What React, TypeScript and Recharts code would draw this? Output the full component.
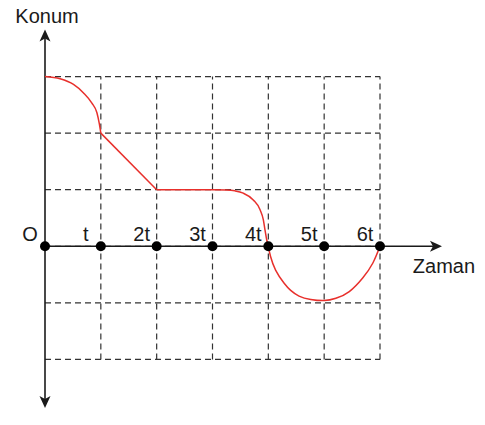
import React from 'react';
import { LineChart, Line, XAxis, YAxis, ReferenceLine, ReferenceDot } from 'recharts';

// time ticks (in units of t) and their labels
const tickValues = [0, 1, 2, 3, 4, 5, 6];
const tickLabels = ['O', 't', '2t', '3t', '4t', '5t', '6t'];

// dashed grid
const gridRows = [3, 2, 1, 0, -1, -2];
const gridCols = [1, 2, 3, 4, 5, 6];

// position curve, split where it has corners
const seg1X = [0, 0.27, 0.51, 0.69, 0.84, 0.93, 0.97, 1];
const seg1Y = [3, 2.96, 2.86, 2.71, 2.53, 2.36, 2.18, 2];
const seg2X = [1, 2];
const seg2Y = [2, 1];
const seg3X = [2, 3, 3.25, 3.4, 3.55, 3.73, 3.85, 3.91, 3.94, 3.97, 4];
const seg3Y = [1, 1, 0.995, 0.98, 0.94, 0.82, 0.65, 0.47, 0.29, 0.12, 0];
const seg4X = [4, 4.04, 4.13, 4.28, 4.4, 4.55, 4.76, 5, 5.21, 5.45, 5.69, 5.87, 6];
const seg4Y = [0, -0.18, -0.42, -0.65, -0.78, -0.88, -0.94, -0.96, -0.92, -0.8, -0.56, -0.3, 0];

const toRows = (xs: number[], ys: number[]) => xs.map((x, i) => ({ x, y: ys[i] }));

const FONT = '"Liberation Sans", Arial, Helvetica, sans-serif';
const INK = '#1a1a1a';
const RED = '#e8302c';

const arrowUp = (p: any) => (
  <g>
    <path d={`M${p.cx},${p.cy} L${p.cx - 5.5},${p.cy + 12} L${p.cx},${p.cy + 9} L${p.cx + 5.5},${p.cy + 12} Z`} fill={INK} />
    <text x={p.cx + 2} y={p.cy - 7} textAnchor="middle" fontFamily={FONT} fontSize={20} fill={INK}>Konum</text>
  </g>
);

const arrowDown = (p: any) => (
  <path d={`M${p.cx},${p.cy} L${p.cx - 5.5},${p.cy - 12} L${p.cx},${p.cy - 9} L${p.cx + 5.5},${p.cy - 12} Z`} fill={INK} />
);

const arrowRight = (p: any) => (
  <g>
    <path d={`M${p.cx},${p.cy} L${p.cx - 12},${p.cy - 5.5} L${p.cx - 9},${p.cy} L${p.cx - 12},${p.cy + 5.5} Z`} fill={INK} />
    <text x={p.cx + 2} y={p.cy + 27} textAnchor="middle" fontFamily={FONT} fontSize={20} fill={INK}>Zaman</text>
  </g>
);

const App: React.FC = () => {
  return (
    <div style={{ margin: '-8px 0 0 -8px', width: 485, height: 425 }}>
      <LineChart width={485} height={425} margin={{ top: 20, right: 38, bottom: 9, left: 45 }}>
        <XAxis type="number" dataKey="x" domain={[0, 7.2]} hide />
        <YAxis type="number" dataKey="y" domain={[-3, 4]} hide />

        {gridRows.map((r) => (
          <ReferenceLine
            key={'r' + r}
            segment={[{ x: 0, y: r }, { x: 6, y: r }]}
            stroke="#333"
            strokeWidth={1.2}
            strokeDasharray="6 4"
          />
        ))}
        {gridCols.map((c) => (
          <ReferenceLine
            key={'c' + c}
            segment={[{ x: c, y: -2 }, { x: c, y: 3 }]}
            stroke="#333"
            strokeWidth={1.2}
            strokeDasharray="6 4"
          />
        ))}

        {/* axes */}
        <ReferenceLine segment={[{ x: 0, y: -2.75 }, { x: 0, y: 3.7 }]} stroke={INK} strokeWidth={1.6} />
        <ReferenceLine segment={[{ x: 0, y: 0 }, { x: 6.95, y: 0 }]} stroke={INK} strokeWidth={1.6} />
        <ReferenceDot x={0} y={3.83} r={0} shape={arrowUp} />
        <ReferenceDot x={0} y={-2.86} r={0} shape={arrowDown} />
        <ReferenceDot x={7.11} y={0} r={0} shape={arrowRight} />

        <Line data={toRows(seg1X, seg1Y)} dataKey="y" type="monotone" stroke={RED} strokeWidth={1.5} dot={false} isAnimationActive={false} />
        <Line data={toRows(seg2X, seg2Y)} dataKey="y" type="linear" stroke={RED} strokeWidth={1.5} dot={false} isAnimationActive={false} />
        <Line data={toRows(seg3X, seg3Y)} dataKey="y" type="monotone" stroke={RED} strokeWidth={1.5} dot={false} isAnimationActive={false} />
        <Line data={toRows(seg4X, seg4Y)} dataKey="y" type="natural" stroke={RED} strokeWidth={1.5} dot={false} isAnimationActive={false} />

        {tickValues.map((t, i) => (
          <ReferenceDot
            key={'t' + t}
            x={t}
            y={0}
            r={5}
            shape={(p: any) => (
              <g>
                <circle cx={p.cx} cy={p.cy} r={5} fill="#000" />
                <text x={p.cx - 15} y={p.cy - 5.5} textAnchor="middle" fontFamily={FONT} fontSize={20} fill={INK}>
                  {tickLabels[i]}
                </text>
              </g>
            )}
          />
        ))}
      </LineChart>
    </div>
  );
};

export default App;
